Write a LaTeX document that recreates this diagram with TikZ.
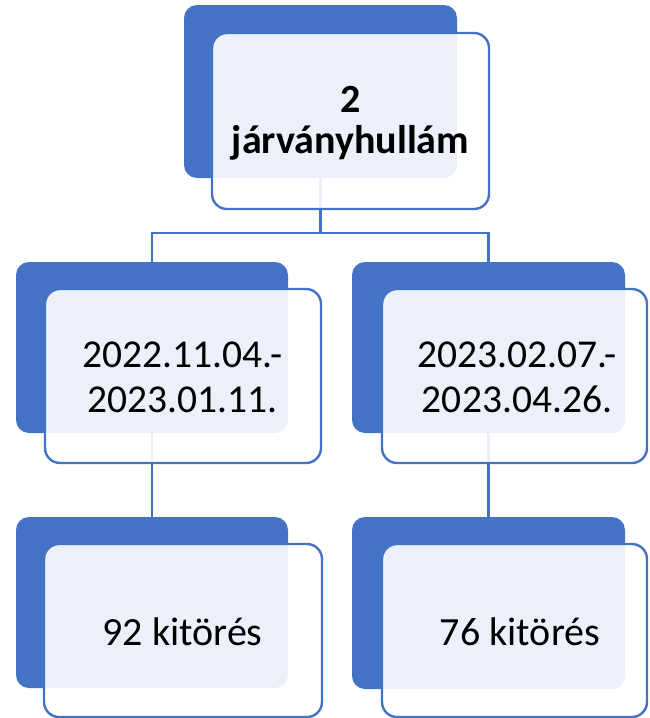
\documentclass[tikz,border=0pt]{standalone}
\usepackage{fontspec}
\setmainfont{Carlito}
\definecolor{accent}{HTML}{4472C4}
\tikzset{
  backbox/.style={draw=none, fill=accent, rounded corners=13pt, inner sep=0pt},
  frontbox/.style={draw=accent, line width=2.4pt, fill=white, fill opacity=0.9, rounded corners=15pt},
  conn/.style={draw=accent, line width=2.2pt},
  lbl/.style={anchor=base, inner sep=0pt, text=black},
}
\begin{document}
\begin{tikzpicture}[x=1pt,y=-1pt]
\useasboundingbox (0,0) rectangle (649,718);
\clip (0,0) rectangle (649,718);
% back boxes
\node[backbox, minimum width=273pt, minimum height=173pt] (topback) at (320.5,91.5) {};
\node[backbox, minimum width=272pt, minimum height=171pt] (lmback) at (152,347.5) {};
\node[backbox, minimum width=273pt, minimum height=171pt] (rmback) at (488.5,347.5) {};
\node[backbox, minimum width=272pt, minimum height=171pt] (lbback) at (152,602.5) {};
\node[backbox, minimum width=273pt, minimum height=172pt] (rbback) at (488.5,603) {};
% connectors
\coordinate (bus) at (320.5,233);
\draw[conn] (topback.south) -- (bus) -| (lmback.north);
\draw[conn] (bus) -| (rmback.north);
\draw[conn] (lmback.south) -- (lbback.north);
\draw[conn] (rmback.south) -- (rbback.north);
% front boxes
\draw[frontbox] (212,33) rectangle (489,209);
\draw[frontbox] (45,289) rectangle (321,463);
\draw[frontbox] (382,289) rectangle (647,463);
\draw[frontbox] (44,544) rectangle (322,717);
\draw[frontbox] (382,544) rectangle (647,717);
% texts
\node[lbl, font=\fontsize{40}{44}\selectfont\bfseries] (t1) at (350.5,112) {2};
\node[lbl, font=\fontsize{40}{44}\selectfont\bfseries] (t2) at (350.5,153) {járványhullám};
\node[lbl, font=\fontsize{39.5}{44}\selectfont] (l1) at (182.5,367) {2022.11.04.-};
\node[lbl, font=\fontsize{39.5}{44}\selectfont] (l2) at (182.5,412) {2023.01.11.};
\node[lbl, font=\fontsize{39.5}{44}\selectfont] (r1) at (517,367) {2023.02.07.-};
\node[lbl, font=\fontsize{39.5}{44}\selectfont] (r2) at (517,412) {2023.04.26.};
\node[lbl, font=\fontsize{40}{44}\selectfont] (lb) at (182.5,645) {92 kitörés};
\node[lbl, font=\fontsize{40}{44}\selectfont] (rb) at (520,645) {76 kitörés};
\end{tikzpicture}
\end{document}
